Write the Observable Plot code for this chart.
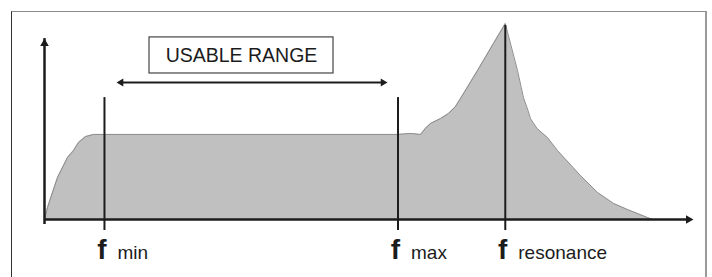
<!DOCTYPE html>
<html>
<head>
<meta charset="utf-8">
<script src="https://cdn.jsdelivr.net/npm/d3@7"></script>
<script src="https://cdn.jsdelivr.net/npm/@observablehq/plot@0.6"></script>
<style>
  html, body { margin: 0; padding: 0; background: #fff; }
  #wrap { position: relative; width: 712px; height: 277px; overflow: hidden; }
  #frame { position: absolute; left: 11px; top: 11px; width: 696px; height: 300px;
           border-left: 1px solid #333; border-top: 1.5px solid #8a8a8a; border-right: 2px solid #9a9a9a; box-sizing: border-box; pointer-events: none; }
  svg { display: block; }
</style>
</head>
<body>
<div id="wrap"><div id="frame"></div></div>
<script>
// Response curve (frequency in arbitrary units 0..100, response in arbitrary units 0..100)
const freq = [0, 0.46, 2.0, 3.54, 4.47, 5.24, 6.32, 7.55, 9.09, 54.39, 56.39, 57.94, 58.7, 59.48, 61.02, 62.25, 63.3, 64.1, 66.72, 69.18, 71.0, 72.88, 73.8, 74.5, 74.88, 75.9, 77.5, 79.04, 82.59, 85.21, 87.67, 89.83, 92.91, 93.7];
const response = [0, 6.1, 21.4, 31.6, 35.2, 39.3, 42.3, 43.4, 43.4, 43.4, 43.9, 43.4, 46.5, 49.0, 51.5, 54.1, 57.5, 61.7, 76.0, 89.8, 100, 76.0, 62.2, 55.6, 51.5, 46.4, 41.8, 35.2, 22.4, 13.8, 8.2, 5.1, 1.0, 0];

// Marked frequencies
const markNames = ["min", "max", "resonance"];
const markFreq = [9.24, 54.47, 71.0];
const markTop = [62.2, 62.2, 99.0];
const markBottom = -5.6;

// Usable range annotation
const rangeLabel = "USABLE RANGE";
const rangeStart = 11.1, rangeEnd = 52.85, rangeLevel = 69.9;
const boxX = [16.18, 44.53], boxY = [74.5, 92.9];

// Axis extents
const axisXEnd = 100, axisYEnd = 92.3;
const labelLevel = -19.9;

const curve = freq.map((f, i) => ({f, r: response[i]}));
const marks = markNames.map((n, i) => ({name: n, f: markFreq[i], top: markTop[i]}));

const ink = "#1c1c1c";
const font = "Liberation Sans, Arial, Helvetica, sans-serif";

const chart = Plot.plot({
  width: 712,
  height: 277,
  marginTop: 0, marginRight: 0, marginBottom: 0, marginLeft: 0,
  x: {domain: [0, 100], range: [44, 693], axis: null},
  y: {domain: [0, 100], range: [219, 23], axis: null},
  style: {background: "transparent"},
  marks: [
    Plot.areaY(curve, {x: "f", y: "r", fill: "#c0c0c0"}),
    Plot.line(curve, {x: "f", y: "r", stroke: "#8c8c8c", strokeWidth: 1}),
    // axes
    Plot.ruleY([0], {x1: 0, x2: axisXEnd, stroke: ink, strokeWidth: 2.5, insetRight: 5}),
    Plot.ruleX([0], {y1: 0, y2: axisYEnd, stroke: ink, strokeWidth: 2.5, insetTop: 5}),
    Plot.dot([{x: axisXEnd, y: 0}], {x: "x", y: "y", symbol: "triangle", r: 3.2, rotate: 90, fill: ink, stroke: null, dx: -5}),
    Plot.dot([{x: 0, y: axisYEnd}], {x: "x", y: "y", symbol: "triangle", r: 3.2, rotate: 0, fill: ink, stroke: null, dy: 5}),
    // frequency markers
    Plot.ruleX(marks, {x: "f", y1: markBottom, y2: "top", stroke: ink, strokeWidth: 2}),
    Plot.text(marks, {x: "f", y: labelLevel, text: () => "f", dx: 2, textAnchor: "end", lineAnchor: "bottom",
      fontSize: 28, fontWeight: "bold", fontFamily: font, fill: ink}),
    Plot.text(marks, {x: "f", y: labelLevel, text: "name", dx: 13, textAnchor: "start", lineAnchor: "bottom",
      fontSize: 19, fontFamily: font, fill: ink}),
    // usable range
    Plot.ruleY([rangeLevel], {x1: rangeStart, x2: rangeEnd, stroke: ink, strokeWidth: 2, insetLeft: 4, insetRight: 4}),
    Plot.dot([{x: rangeStart, y: rangeLevel}], {x: "x", y: "y", symbol: "triangle", r: 2.9, rotate: -90, fill: ink, stroke: null, dx: 4.5}),
    Plot.dot([{x: rangeEnd, y: rangeLevel}], {x: "x", y: "y", symbol: "triangle", r: 2.9, rotate: 90, fill: ink, stroke: null, dx: -4.5}),
    Plot.rect([{x1: boxX[0], x2: boxX[1], y1: boxY[0], y2: boxY[1]}], {x1: "x1", x2: "x2", y1: "y1", y2: "y2", fill: "white", stroke: "#444", strokeWidth: 1.2}),
    Plot.text([rangeLabel], {x: (boxX[0] + boxX[1]) / 2, y: (boxY[0] + boxY[1]) / 2, text: d => d, fontSize: 19.5, fontFamily: font, fill: ink})
  ]
});
document.getElementById("wrap").prepend(chart);
</script>
</body>
</html>
